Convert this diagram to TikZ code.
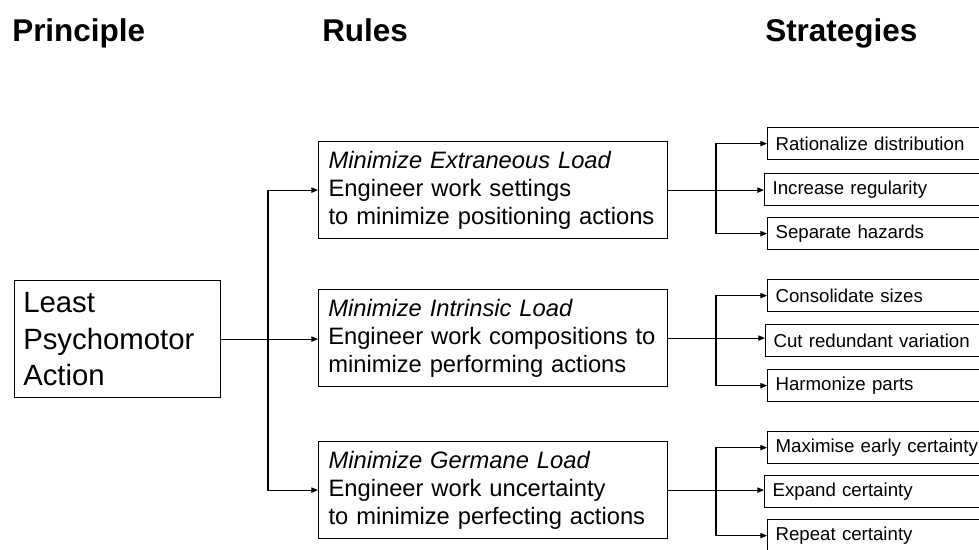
\documentclass[tikz,border=0pt]{standalone}
\usepackage{fontspec}
\setmainfont{Liberation Sans}
\usetikzlibrary{arrows.meta}

\begin{document}
\begin{tikzpicture}[x=0.75pt,y=-0.75pt,
  box/.style={draw=black,line width=0.9pt,rectangle,anchor=north west,
    align=left,inner ysep=0pt},
  principlebox/.style={box,font=\fontsize{22}{27.4}\selectfont,
    inner xsep=6.5pt,text width=141.5pt,minimum width=154.5pt,minimum height=87.75pt},
  rulebox/.style={box,font=\fontsize{17.8}{21}\selectfont,
    inner xsep=7.5pt,text width=246.75pt,minimum width=261.75pt,minimum height=72.75pt},
  stratbox/.style={box,font=\fontsize{14}{16}\selectfont,
    inner xsep=6pt,text width=168pt,minimum width=180pt,minimum height=24pt},
  header/.style={anchor=base west,inner sep=0pt,font=\fontsize{23.6}{28}\selectfont\bfseries},
  arr/.style={line width=0.9pt,-{Triangle[length=5pt,width=4pt]}}
]
\clip (0,0) rectangle (979,550);

% column headings
\node[header] (hP) at (12,41) {Principle};
\node[header] (hR) at (322,41) {Rules};
\node[header] (hS) at (765,41) {Strategies};

% principle
\node[principlebox] (P) at (14,280) {Least\\Psychomotor\\Action};

% rules
\node[rulebox] (R1) at (318,141)
  {\textit{Minimize Extraneous Load}\\Engineer work settings\\\mbox{to minimize positioning actions}};
\node[rulebox,inner xsep=6.5pt,text width=247.25pt] (R2) at (318,289)
  {\textit{Minimize Intrinsic Load}\\\mbox{Engineer work compositions to}\\minimize performing actions};
\node[rulebox] (R3) at (318,441)
  {\textit{Minimize Germane Load}\\Engineer work uncertainty\\\mbox{to minimize perfecting actions}};

% strategies
\node[stratbox] (S11) at (767,127) {Rationalize distribution};
\node[stratbox] (S12) at (764,173) {Increase regularity};
\node[stratbox] (S13) at (767,217) {Separate hazards};
\node[stratbox] (S21) at (767,279) {Consolidate sizes};
\node[stratbox] (S22) at (765,324) {Cut redundant variation};
\node[stratbox] (S23) at (767,369) {Harmonize parts};
\node[stratbox] (S31) at (767,431) {Maximise early certainty};
\node[stratbox] (S32) at (764,475) {Expand certainty};
\node[stratbox] (S33) at (767,519) {Repeat certainty};

% principle -> rules
\coordinate (jP) at (268,338);
\draw[arr] (P.east) -- (P.east -| R2.west);
\draw[arr] (jP) |- (R1.west);
\draw[arr] (jP) |- (R3.west);

% rules -> strategies
\coordinate (j1) at (716,189);
\coordinate (j2) at (716,338);
\coordinate (j3) at (716,490);
\draw[arr] (R1.east) -- (R1.east -| S12.west);
\draw[arr] (j1) |- (S11.west);
\draw[arr] (j1) |- (S13.west);
\draw[arr] (R2.east) -- (R2.east -| S22.west);
\draw[arr] (j2) |- (S21.west);
\draw[arr] (j2) |- (S23.west);
\draw[arr] (R3.east) -- (R3.east -| S32.west);
\draw[arr] (j3) |- (S31.west);
\draw[arr] (j3) |- (S33.west);
\end{tikzpicture}
\end{document}
